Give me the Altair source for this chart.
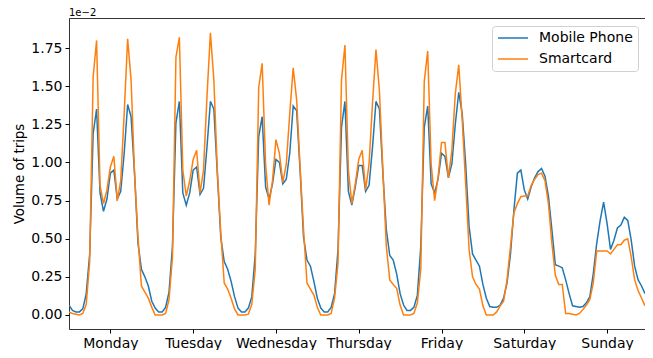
import altair as alt
import pandas as pd

days = ["Monday", "Tuesday", "Wednesday", "Thursday", "Friday", "Saturday", "Sunday"]
series_names = ["Mobile Phone", "Smartcard"]

# hourly values (units of 1e-2), Monday 00h .. Sunday 23h
mobile = [
    # Monday
    0.065, 0.03, 0.02, 0.02, 0.04, 0.14, 0.40, 1.19, 1.35, 0.80, 0.68, 0.76,
    0.93, 0.95, 0.76, 0.81, 1.06, 1.38, 1.30, 0.93, 0.47, 0.30, 0.25, 0.19,
    # Tuesday
    0.09, 0.045, 0.02, 0.02, 0.05, 0.15, 0.45, 1.26, 1.40, 0.80, 0.72, 0.80,
    0.95, 0.97, 0.79, 0.83, 1.10, 1.40, 1.35, 0.93, 0.51, 0.35, 0.30, 0.22,
    # Wednesday
    0.12, 0.045, 0.02, 0.02, 0.045, 0.12, 0.40, 1.17, 1.30, 0.84, 0.76, 0.86,
    1.02, 1.00, 0.86, 0.89, 1.06, 1.37, 1.34, 0.95, 0.51, 0.36, 0.32, 0.22,
    # Thursday
    0.11, 0.045, 0.02, 0.02, 0.05, 0.14, 0.43, 1.23, 1.40, 0.81, 0.72, 0.84,
    0.98, 0.98, 0.81, 0.85, 1.10, 1.40, 1.35, 0.93, 0.56, 0.39, 0.36, 0.27,
    # Friday
    0.14, 0.065, 0.03, 0.03, 0.05, 0.13, 0.45, 1.23, 1.37, 0.86, 0.80, 0.89,
    1.06, 1.04, 0.90, 0.99, 1.25, 1.46, 1.32, 0.99, 0.58, 0.40, 0.36, 0.32,
    # Saturday
    0.20, 0.11, 0.055, 0.05, 0.05, 0.065, 0.11, 0.21, 0.40, 0.69, 0.93, 0.95,
    0.82, 0.76, 0.84, 0.90, 0.94, 0.96, 0.91, 0.78, 0.56, 0.33, 0.32, 0.31,
    # Sunday
    0.23, 0.14, 0.06, 0.055, 0.05, 0.055, 0.08, 0.12, 0.27, 0.47, 0.62, 0.74,
    0.60, 0.43, 0.49, 0.57, 0.59, 0.64, 0.62, 0.49, 0.32, 0.23, 0.19, 0.14,
]

smartcard = [
    # Monday
    0.02, 0.01, 0.005, 0.0, 0.01, 0.07, 0.35, 1.56, 1.80, 0.85, 0.73, 0.82,
    0.97, 1.04, 0.75, 0.88, 1.32, 1.81, 1.54, 0.93, 0.51, 0.19, 0.15, 0.11,
    # Tuesday
    0.05, 0.0, 0.0, 0.0, 0.01, 0.10, 0.38, 1.69, 1.82, 0.95, 0.78, 0.88,
    1.02, 1.08, 0.80, 0.95, 1.43, 1.85, 1.54, 0.95, 0.54, 0.21, 0.17, 0.11,
    # Wednesday
    0.04, 0.0, 0.0, 0.0, 0.005, 0.07, 0.30, 1.49, 1.65, 0.99, 0.72, 0.88,
    1.15, 1.06, 0.87, 0.99, 1.32, 1.62, 1.41, 0.97, 0.56, 0.21, 0.17, 0.13,
    # Thursday
    0.05, 0.0, 0.0, 0.0, 0.01, 0.11, 0.34, 1.54, 1.77, 0.95, 0.73, 0.86,
    1.02, 1.08, 0.82, 0.99, 1.39, 1.74, 1.47, 0.95, 0.45, 0.23, 0.20, 0.175,
    # Friday
    0.065, 0.0, 0.0, 0.0, 0.01, 0.08, 0.30, 1.53, 1.73, 0.99, 0.75, 0.90,
    1.13, 1.13, 0.90, 1.08, 1.45, 1.64, 1.28, 0.86, 0.43, 0.25, 0.20, 0.17,
    # Saturday
    0.06, 0.0, 0.0, 0.0, 0.02, 0.06, 0.09, 0.23, 0.45, 0.67, 0.73, 0.775,
    0.78, 0.78, 0.85, 0.89, 0.92, 0.93, 0.88, 0.73, 0.47, 0.26, 0.20, 0.20,
    # Sunday
    0.01, 0.01, 0.005, 0.0, 0.01, 0.035, 0.065, 0.10, 0.21, 0.42, 0.42, 0.42,
    0.42, 0.40, 0.43, 0.46, 0.46, 0.49, 0.50, 0.38, 0.23, 0.16, 0.11, 0.06,
]

y_ticks = [0.0, 0.25, 0.5, 0.75, 1.0, 1.25, 1.5, 1.75]
day_ticks = [12 + 24 * i for i in range(7)]

rows = []
for name, vals in zip(series_names, [mobile, smartcard]):
    for h, v in enumerate(vals):
        rows.append({"hour": h, "value": v, "series": name})
df = pd.DataFrame(rows)

label_expr = "[" + ",".join(f"'{d}'" for d in days) + "][floor((datum.value - 12) / 24)]"

font = "DejaVu Sans"

lines = alt.Chart(df).mark_line(strokeWidth=1.5, clip=True).encode(
    x=alt.X("hour:Q",
            scale=alt.Scale(domain=[0, 167], nice=False, zero=False),
            axis=alt.Axis(values=day_ticks, labelExpr=label_expr, title=None,
                          grid=False, domain=False, tickSize=4, tickColor="#000",
                          labelFontSize=14, labelFont=font, labelColor="#000",
                          labelPadding=3)),
    y=alt.Y("value:Q",
            scale=alt.Scale(domain=[-0.092, 1.947], nice=False, zero=False),
            axis=alt.Axis(values=y_ticks, format=".2f", title="Volume of trips",
                          grid=False, domain=False, tickSize=4, tickColor="#000",
                          labelFontSize=14, labelFont=font, labelColor="#000",
                          labelPadding=3, titleFont=font, titleFontSize=13.3,
                          titleFontWeight="normal", titleColor="#000",
                          titlePadding=4)),
    color=alt.Color("series:N",
                    scale=alt.Scale(domain=series_names, range=["#1f77b4", "#ff7f0e"]),
                    legend=alt.Legend(title=None, orient="none", legendX=423, legendY=8,
                                      symbolType="M-1,0H4", symbolSize=144,
                                      symbolStrokeWidth=1.5, labelFontSize=14,
                                      labelFont=font, labelColor="#000",
                                      labelOffset=28, rowPadding=7, padding=5,
                                      fillColor="rgba(255,255,255,0.8)",
                                      strokeColor="#d0d0d0", cornerRadius=3)),
    order=alt.Order("hour:Q"),
)

offset_text = alt.Chart(pd.DataFrame({"t": ["1e\u22122"]})).mark_text(
    align="left", baseline="alphabetic", fontSize=10, font=font, color="#000"
).encode(x=alt.value(0), y=alt.value(-2), text="t:N")

chart = alt.layer(lines, offset_text).properties(
    width=576, height=311,
    autosize=alt.AutoSizeParams(type="none"),
    padding={"left": 61, "top": 10, "right": 0, "bottom": 21},
).configure_view(stroke="#333", strokeWidth=1)

chart.save("out.html", embed_options={"renderer": "svg", "actions": False})
